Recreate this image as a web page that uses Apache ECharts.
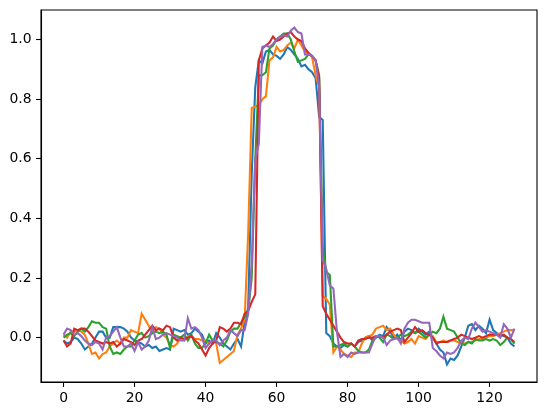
<!DOCTYPE html>
<html>
<head>
<meta charset="utf-8">
<script src="https://cdn.jsdelivr.net/npm/echarts@6/dist/echarts.min.js"></script>
<style>
html,body{margin:0;padding:0;background:#fff;}
#chart{width:547px;height:413px;}
</style>
</head>
<body>
<div id="chart"></div>
<script>
// x positions 0..127 (sample index)
const xTicks = [0, 20, 40, 60, 80, 100, 120];
const yTicks = [0.0, 0.2, 0.4, 0.6, 0.8, 1.0];
const seriesNames = ['s0', 's1', 's2', 's3', 's4'];
const colors = ['#1f77b4', '#ff7f0e', '#2ca02c', '#d62728', '#9467bd'];

const blue = [
-0.01,-0.02,-0.015,0.0,-0.005,-0.02,-0.04,-0.03,-0.02,0.0,
0.02,0.02,0.0,0.0,0.035,0.035,0.035,0.03,0.02,0.0,
-0.01,-0.015,-0.02,-0.03,-0.025,-0.035,-0.03,-0.045,-0.04,-0.035,
-0.04,0.03,0.025,0.02,0.025,0.01,0.015,0.03,0.02,0.01,
-0.02,-0.01,-0.02,0.015,0.0,-0.02,-0.03,-0.04,-0.02,-0.005,
-0.03,0.05,0.10,0.55,0.84,0.93,0.92,0.96,0.965,0.95,
0.945,0.935,0.95,0.975,0.965,0.95,0.935,0.91,0.915,0.90,
0.89,0.87,0.74,0.73,0.015,0.005,-0.02,-0.03,-0.035,-0.025,
-0.03,-0.02,-0.03,-0.015,-0.01,0.0,0.005,-0.01,0.0,0.01,
0.005,0.035,0.02,0.0,0.01,-0.01,0.02,0.03,0.025,0.015,
0.03,0.02,0.01,0.02,0.0,-0.02,-0.04,-0.05,-0.09,-0.07,
-0.075,-0.06,-0.03,0.0,0.04,0.045,0.025,0.04,0.03,0.015,
0.06,0.025,0.015,0.01,0.005,0.0,-0.02,-0.03
];
const orange = [
0.01,0.0,0.02,0.02,0.025,0.02,0.01,-0.02,-0.055,-0.05,
-0.07,-0.055,-0.05,-0.03,-0.02,-0.01,-0.02,0.0,0.0,0.025,
0.02,0.015,0.08,0.06,0.04,0.02,0.035,0.03,0.01,0.0,
-0.025,-0.03,-0.02,0.0,-0.01,0.005,0.005,-0.005,-0.005,-0.01,
-0.01,-0.02,-0.01,-0.02,-0.085,-0.075,-0.065,-0.055,-0.045,0.01,
0.03,0.06,0.35,0.77,0.775,0.78,0.80,0.81,0.93,0.94,
0.975,0.96,0.965,0.98,0.99,0.97,1.0,0.98,0.96,0.955,
0.94,0.88,0.84,0.14,0.13,0.11,-0.05,-0.03,-0.04,-0.055,
-0.06,-0.065,-0.05,-0.05,-0.02,0.0,0.005,0.01,0.03,0.035,
0.04,0.025,0.03,0.01,-0.005,-0.01,-0.02,-0.015,-0.005,-0.02,
0.005,0.0,-0.005,0.01,0.005,-0.015,-0.015,-0.01,-0.015,-0.01,
-0.01,-0.015,-0.02,-0.02,-0.015,-0.015,-0.01,-0.005,-0.005,0.0,
0.005,0.005,0.01,0.015,0.02,0.025,0.025,0.025
];
const green = [
0.0,0.01,0.015,0.005,0.02,0.03,0.02,0.035,0.055,0.05,
0.05,0.035,0.03,-0.03,-0.055,-0.05,-0.055,-0.04,-0.03,-0.03,
-0.01,0.01,0.015,0.0,0.005,0.015,0.02,0.015,0.02,0.01,
-0.035,0.01,0.005,0.0,0.01,-0.01,0.01,-0.02,-0.035,-0.035,
-0.02,0.01,-0.01,-0.015,-0.02,-0.03,-0.01,0.02,0.03,0.03,
0.05,0.07,0.09,0.20,0.60,0.88,0.88,0.89,0.97,0.98,
1.0,1.01,1.02,1.02,1.0,0.96,0.925,0.93,0.935,0.95,
0.945,0.93,0.88,0.30,0.22,0.21,-0.03,-0.03,-0.025,-0.02,
-0.03,-0.02,-0.03,-0.045,-0.05,-0.05,-0.04,-0.01,0.005,0.0,
-0.015,0.01,0.005,-0.005,0.0,0.01,0.005,0.01,0.02,0.015,
0.02,0.01,0.0,0.01,0.02,0.015,0.03,0.07,0.03,0.025,
0.02,0.0,-0.02,-0.025,-0.015,-0.02,-0.005,-0.01,-0.01,-0.005,
-0.01,-0.005,-0.01,-0.025,-0.015,0.0,-0.005,-0.02
];
const red = [
-0.01,-0.03,-0.02,0.03,0.025,0.03,0.03,0.02,0.005,-0.01,
-0.015,-0.02,-0.015,-0.02,-0.015,-0.03,-0.02,-0.005,-0.01,-0.015,
-0.025,-0.01,-0.005,0.01,0.025,0.04,0.025,0.03,0.025,0.04,
0.035,0.0,-0.01,0.0,-0.005,0.0,0.005,-0.01,-0.02,-0.04,
-0.06,-0.035,-0.02,-0.01,0.035,0.03,0.02,0.03,0.05,0.05,
0.045,0.08,0.09,0.12,0.145,0.93,0.97,0.98,0.99,1.01,
0.995,1.0,1.01,1.02,1.025,1.01,1.0,0.995,0.97,0.955,
0.945,0.93,0.87,0.105,0.08,0.06,0.04,0.02,0.0,-0.015,
-0.02,-0.02,-0.03,-0.01,-0.005,-0.005,0.0,0.0,0.005,0.005,
0.0,0.01,0.02,0.025,0.03,0.025,-0.015,0.0,0.015,0.035,
0.02,0.025,0.015,0.01,0.0,-0.02,-0.015,-0.015,-0.015,-0.01,
-0.005,0.0,0.01,0.005,0.0,-0.005,0.0,0.005,0.0,0.005,
0.01,0.01,0.01,0.005,0.01,0.0,-0.005,-0.015
];
const purple = [
0.01,0.03,0.025,0.01,0.015,0.005,-0.01,-0.02,-0.025,-0.015,
-0.02,-0.04,0.0,0.005,0.02,0.035,0.0,-0.03,-0.03,-0.02,
-0.045,-0.015,-0.04,-0.03,-0.01,0.035,-0.005,0.0,0.01,0.015,
0.01,0.005,0.0,-0.01,-0.01,0.065,0.03,0.035,0.025,0.0,
-0.035,-0.02,-0.01,-0.01,-0.025,-0.01,0.0,0.025,0.015,0.005,
0.025,0.025,0.08,0.25,0.60,0.65,0.975,0.98,0.975,0.985,
1.0,1.01,1.015,1.01,1.03,1.04,1.025,1.02,0.95,0.95,
0.945,0.93,0.84,0.26,0.23,0.175,0.165,0.02,-0.065,-0.055,
-0.065,-0.05,-0.055,-0.05,-0.05,-0.05,-0.05,-0.02,0.005,0.005,
0.0,-0.025,-0.01,-0.005,0.0,-0.02,0.03,0.05,0.06,0.06,
0.055,0.05,0.05,0.05,-0.035,-0.045,-0.06,-0.07,-0.05,-0.055,
-0.05,-0.035,-0.01,0.0,-0.005,0.03,0.05,0.035,0.02,0.025,
0.02,0.015,0.01,0.0,0.045,0.03,0.0,0.03
];

const allValues = [blue, orange, green, red, purple];

const chart = echarts.init(document.getElementById('chart'), null, {renderer: 'canvas'});
const fontFamily = '"DejaVu Sans", sans-serif';
const fontSize = 13.9;

chart.setOption({
  animation: false,
  backgroundColor: '#fff',
  grid: {left: 41, right: 10, top: 10, bottom: 31, show: true, borderColor: '#000', borderWidth: 1.1, backgroundColor: 'transparent'},
  xAxis: {
    type: 'value', min: -6.35, max: 133.35,
    axisLine: {show: true, onZero: false, lineStyle: {color: '#000', width: 1.1}},
    axisTick: {show: true, inside: false, length: 4.9, lineStyle: {color: '#000', width: 1.1}, customValues: xTicks},
    axisLabel: {color: '#000', fontFamily, fontSize, margin: 9.5, customValues: xTicks, formatter: v => String(v)},
    splitLine: {show: false}
  },
  yAxis: {
    type: 'value', min: -0.149, max: 1.099,
    axisLine: {show: true, onZero: false, lineStyle: {color: '#000', width: 1.1}},
    axisTick: {show: true, inside: false, length: 4.9, lineStyle: {color: '#000', width: 1.1}, customValues: yTicks},
    axisLabel: {color: '#000', fontFamily, fontSize, margin: 9.5, customValues: yTicks, formatter: v => Number(v).toFixed(1)},
    splitLine: {show: false}
  },
  series: allValues.map((vals, i) => ({
    name: seriesNames[i],
    type: 'line',
    data: vals.map((v, k) => [k, v]),
    showSymbol: false,
    symbol: 'none',
    lineStyle: {color: colors[i], width: 2.08, cap: 'butt', join: 'miter'},
    itemStyle: {color: colors[i]},
    z: 2 + i
  }))
});
</script>
</body>
</html>
